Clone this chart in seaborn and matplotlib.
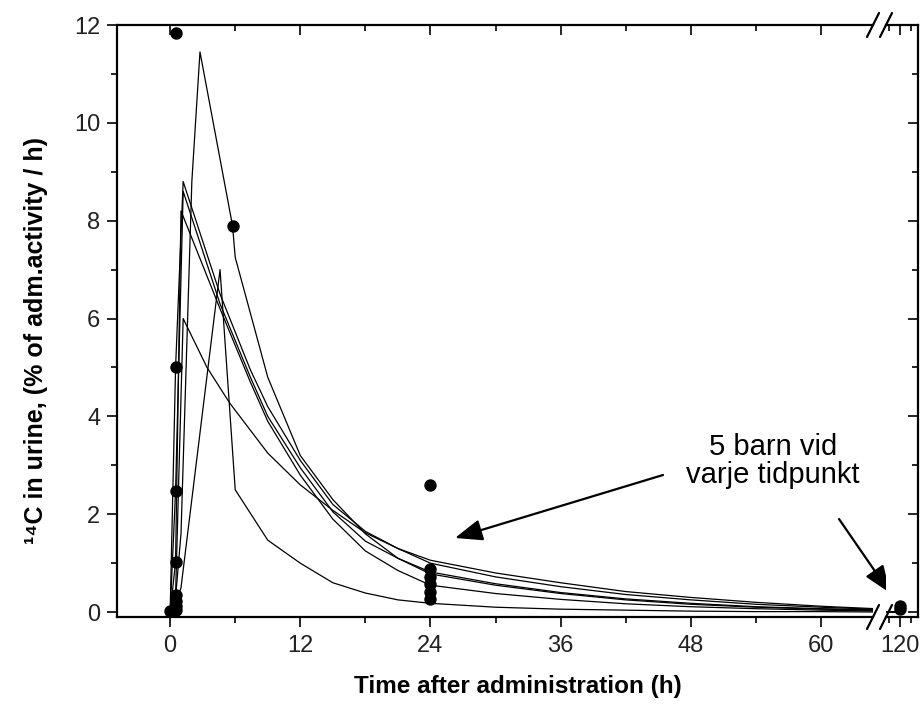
import numpy as np
import pandas as pd
import matplotlib
matplotlib.use("Agg")
import matplotlib.pyplot as plt
from matplotlib.ticker import MultipleLocator, FixedLocator
import seaborn as sns

# ---------------- data ----------------
t_A = [0, 0.5, 1.0, 2.0, 2.75, 5.75, 6.0, 9, 12, 15, 18, 21, 24, 30, 36, 42, 48, 54, 60, 66, 120]
c_A = [0, 0.3, 1.6, 8.8, 11.45, 7.9, 7.25, 4.8, 3.2, 2.3, 1.6, 1.1, 0.78, 0.55, 0.38, 0.25, 0.16, 0.1, 0.06, 0.03, 0.0]

t_B = [0, 0.5, 1.0, 4.6, 6.0, 9, 12, 15, 18, 21, 24, 30, 36, 42, 48, 54, 60, 66, 120]
c_B = [0, 0.14, 0.5, 7.0, 2.5, 1.47, 1.0, 0.6, 0.39, 0.25, 0.18, 0.1, 0.06, 0.04, 0.02, 0.01, 0.01, 0.0, 0.0]

t_C = [0, 0.5, 1.2, 4.6, 7.4, 9, 12, 15, 18, 21, 24, 30, 36, 42, 48, 54, 60, 66, 120]
c_C = [0, 5.0, 8.8, 6.5, 4.95, 4.2, 3.1, 2.2, 1.65, 1.3, 1.0, 0.72, 0.52, 0.36, 0.25, 0.16, 0.1, 0.05, 0.0]

t_D = [0, 0.5, 1.2, 4.6, 7.4, 9, 12, 15, 18, 21, 24, 30, 36, 42, 48, 54, 60, 66, 120]
c_D = [0, 2.47, 8.6, 6.3, 4.8, 4.0, 2.95, 2.05, 1.45, 1.1, 0.82, 0.58, 0.4, 0.27, 0.18, 0.11, 0.07, 0.04, 0.0]

t_E = [0, 0.5, 1.0, 4.6, 7.4, 9, 12, 15, 18, 21, 24, 30, 36, 42, 48, 54, 60, 66, 120]
c_E = [0, 1.02, 8.2, 6.2, 4.7, 3.9, 2.8, 1.9, 1.25, 0.85, 0.55, 0.38, 0.26, 0.17, 0.11, 0.07, 0.04, 0.02, 0.0]

t_F = [0, 0.5, 1.2, 3.4, 5.5, 9, 12, 15, 18, 21, 24, 30, 36, 42, 48, 54, 60, 66, 120]
c_F = [0, 0.35, 6.0, 5.0, 4.27, 3.25, 2.6, 2.08, 1.62, 1.3, 1.06, 0.8, 0.6, 0.42, 0.3, 0.2, 0.12, 0.06, 0.0]

obs_t = [0.0, 0.5, 0.5, 0.5, 0.5, 0.5, 0.5, 0.5, 0.5, 5.8,
         24, 24, 24, 24, 24, 24, 120, 120]
obs_c = [0.02, 11.84, 5.0, 2.47, 1.02, 0.35, 0.22, 0.12, 0.05, 7.9,
         2.6, 0.88, 0.72, 0.58, 0.42, 0.27, 0.12, 0.06]

x_ticks_left = [0, 12, 24, 36, 48, 60]
x_ticks_right = [120]
y_ticks = [0, 2, 4, 6, 8, 10, 12]

ylabel_txt = "\u00b9\u2074C in urine, (% of adm.activity / h)"
xlabel_txt = "Time after administration (h)"
note_txt = "5 barn vid\nvarje tidpunkt"

# ---------------- tables ----------------
curves = {"A": (t_A, c_A), "B": (t_B, c_B), "C": (t_C, c_C),
          "D": (t_D, c_D), "E": (t_E, c_E), "F": (t_F, c_F)}
curve_df = pd.concat([pd.DataFrame({"t": t, "c": c, "subject": k})
                      for k, (t, c) in curves.items()], ignore_index=True)
obs_df = pd.DataFrame({"t": obs_t, "c": obs_c})

# ---------------- figure ----------------
sns.set_theme(style="ticks")
plt.rcParams["font.family"] = ["Liberation Sans", "DejaVu Sans"]

W, H = 923, 704
fig = plt.figure(figsize=(W / 100, H / 100), dpi=100)

def fx(px):
    return px / W

def fy(py):
    return 1 - py / H

top_px, bot_px = 25, 617
ax1 = fig.add_axes([fx(117), fy(bot_px), fx(873) - fx(117), fy(top_px) - fy(bot_px)])
ax2 = fig.add_axes([fx(886), fy(bot_px), fx(918) - fx(886), fy(top_px) - fy(bot_px)])

for ax in (ax1, ax2):
    sns.lineplot(data=curve_df, x="t", y="c", units="subject", estimator=None,
                 color="black", lw=0.9, ax=ax, legend=False)
    sns.scatterplot(data=obs_df, x="t", y="c", color="black", s=80,
                    edgecolor="black", linewidth=0, ax=ax, legend=False, zorder=5)
    ax.set_ylim(-0.1, 12)
    ax.set_xlabel("")
    ax.set_ylabel("")
    for s in ax.spines.values():
        s.set_linewidth(1.6)
        s.set_color("black")

ax1.set_xlim(-4.9, 64.8)
ax2.set_xlim(118.7, 121.65)

ax1.spines["right"].set_visible(False)
ax2.spines["left"].set_visible(False)

lab_size = 17
ax1.xaxis.set_major_locator(FixedLocator(x_ticks_left))
ax1.xaxis.set_minor_locator(FixedLocator([6, 18, 30, 42, 54]))
ax1.yaxis.set_major_locator(FixedLocator(y_ticks))
ax1.yaxis.set_minor_locator(MultipleLocator(1))
ax1.tick_params(axis="x", which="both", bottom=True, top=True, direction="out",
                labelsize=lab_size, labelcolor="#222222", width=1.4, pad=6)
ax1.tick_params(axis="x", which="major", length=7)
ax1.tick_params(axis="x", which="minor", length=4)
ax1.tick_params(axis="y", which="both", left=True, right=False, direction="out",
                labelsize=lab_size, labelcolor="#222222", width=1.4, pad=5)
ax1.tick_params(axis="y", which="major", length=7)
ax1.tick_params(axis="y", which="minor", length=4)

ax2.xaxis.set_major_locator(FixedLocator(x_ticks_right))
ax2.xaxis.set_minor_locator(FixedLocator([119, 121]))
ax2.yaxis.set_major_locator(FixedLocator(y_ticks))
ax2.yaxis.set_minor_locator(MultipleLocator(1))
ax2.tick_params(axis="x", which="both", bottom=True, top=True, direction="out",
                labelsize=lab_size, labelcolor="#222222", width=1.4, pad=6)
ax2.tick_params(axis="x", which="major", length=7)
ax2.tick_params(axis="x", which="minor", length=4)
ax2.tick_params(axis="y", which="both", left=False, right=True, labelleft=False,
                labelright=False, direction="in", width=1.4)
ax2.tick_params(axis="y", which="major", length=7)
ax2.tick_params(axis="y", which="minor", length=4)

# top ticks point inward in the reference
for ax in (ax1, ax2):
    for tk in ax.xaxis.get_major_ticks() + ax.xaxis.get_minor_ticks():
        tk.tick2line.set_marker(3)

# axis labels
fig.text(fx(36), fy(340), ylabel_txt, rotation=90, ha="center", va="center",
         fontsize=18, fontweight="bold", color="black")
fig.text(fx(518), fy(686), xlabel_txt, ha="center", va="center",
         fontsize=17.5, fontweight="bold", color="black")

# break marks
for ypx in (top_px, bot_px):
    for xc in (873, 886):
        fig.add_artist(plt.Line2D([fx(xc - 6), fx(xc + 6)], [fy(ypx + 12), fy(ypx - 12)],
                                  color="black", lw=1.6, transform=fig.transFigure))

# annotation
fig.text(fx(773), fy(461), note_txt, ha="center", va="center", fontsize=21,
         linespacing=1.02, color="black")
arrow_kw = dict(arrowstyle="-|>,head_length=1.4,head_width=0.55", color="black",
                lw=1.6, shrinkA=0, shrinkB=0)
ax1.annotate("", xy=(455, H - 538), xycoords="figure pixels",
             xytext=(663, H - 475), textcoords="figure pixels",
             arrowprops=arrow_kw, annotation_clip=False)
ax1.annotate("", xy=(890, H - 593), xycoords="figure pixels",
             xytext=(839, H - 519), textcoords="figure pixels",
             arrowprops=arrow_kw, annotation_clip=False)

fig.savefig("out.png", dpi=100)
